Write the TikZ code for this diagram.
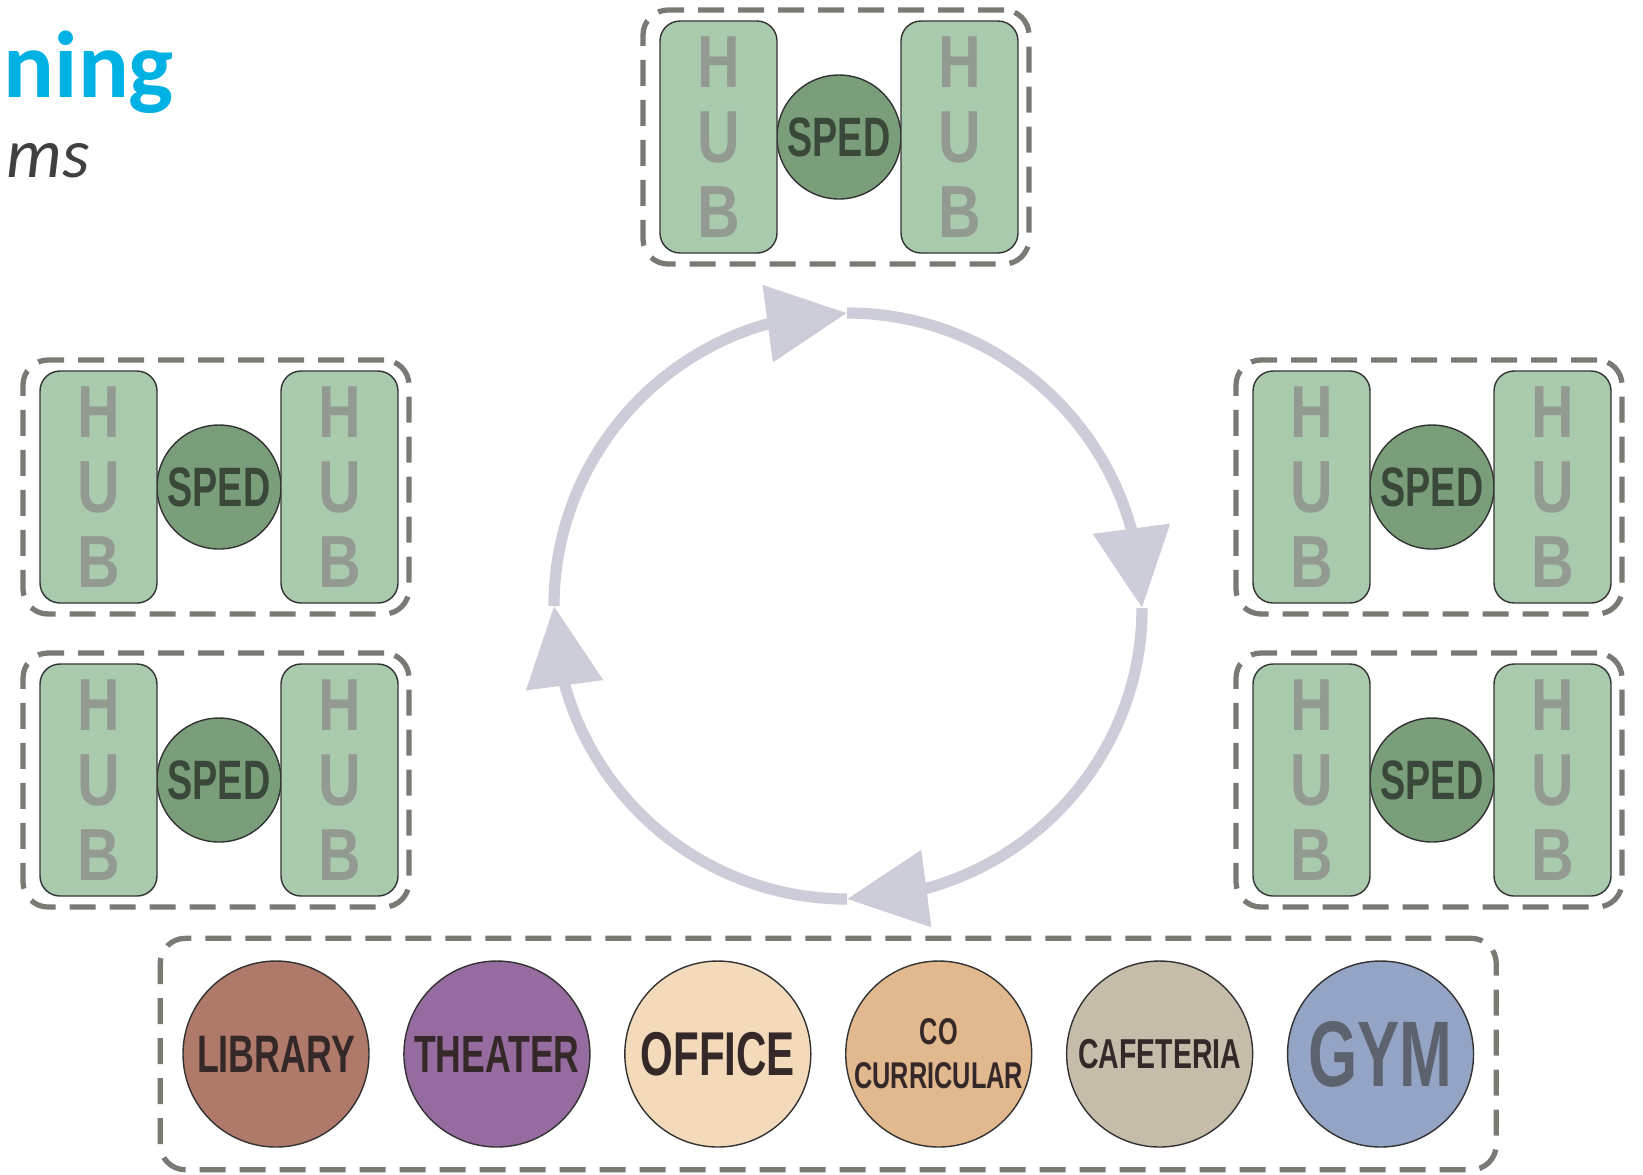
\documentclass[tikz,border=0pt]{standalone}
\usepackage{fontspec}
\setmainfont{Liberation Sans}
\newfontfamily\condfont[FakeStretch=0.68]{Liberation Sans}
\newfontfamily\hubfont[FakeStretch=0.8]{Liberation Sans}
\newfontfamily\titlefont{Carlito}
\usepackage{tikz}
\usetikzlibrary{shapes,arrows.meta,bending}
\usetikzlibrary{positioning,fit}

\definecolor{hubgreen}{RGB}{170,202,174}
\definecolor{hubletter}{RGB}{146,154,145}
\definecolor{spedgreen}{RGB}{122,158,122}
\definecolor{spedtext}{RGB}{58,72,58}
\definecolor{dashgray}{RGB}{122,122,116}
\definecolor{cyclegray}{RGB}{205,205,218}
\definecolor{titleblue}{RGB}{0,178,228}
\definecolor{subgray}{RGB}{64,64,64}
\definecolor{roomtext}{RGB}{52,40,40}
\definecolor{gymtext}{RGB}{92,98,110}
\definecolor{libraryfill}{RGB}{176,122,106}
\definecolor{theaterfill}{RGB}{150,108,160}
\definecolor{officefill}{RGB}{242,218,186}
\definecolor{cocurrfill}{RGB}{226,184,142}
\definecolor{cafefill}{RGB}{198,188,170}
\definecolor{gymfill}{RGB}{148,164,196}

\tikzstyle{hub} = [
    rectangle, rounded corners=0.2cm, minimum width=1.17cm, minimum height=2.32cm,
    inner sep=0pt, outer sep=0pt, draw=black!80, fill=hubgreen, text=hubletter,
    align=center, font=\hubfont\bfseries\fontsize{21}{21.3}\selectfont]
\tikzstyle{sped} = [
    circle, minimum size=1.24cm, inner sep=0pt, outer sep=0pt, draw=black!80,
    fill=spedgreen, text=spedtext, font=\condfont\bfseries\fontsize{15.8}{16}\selectfont]
\tikzstyle{hubbox} = [
    rectangle, rounded corners=0.25cm, draw=dashgray, line width=1.5pt,
    dash pattern=on 0.26cm off 0.14cm, inner xsep=0.14cm, inner ysep=0.11cm, xshift=-0.03cm]
\tikzstyle{room} = [
    circle, minimum size=1.86cm, inner sep=0pt, draw=black!80, text=roomtext, align=center]
\tikzstyle{cyclearrow} = [line width=3.2pt, draw=cyclegray, -{Triangle[length=0.8cm, width=0.75cm]}]

\begin{document}
\begin{tikzpicture}
\useasboundingbox (0,0) rectangle (16.43,-11.74);

\node (title) [anchor=base west, inner sep=0pt, text=titleblue,
    font=\titlefont\bfseries\fontsize{27}{27}\selectfont] at (0.03,-0.97) {ning};
\node (subtitle) [anchor=base west, inner sep=0pt, text=subgray,
    font=\titlefont\itshape\fontsize{20}{20}\selectfont] at (0.06,-1.77) {ms};

% hub groups
\node (sped-top) [sped] at (8.39,-1.37) {SPED};
\node (hub-top-l) [hub, left=0cm of sped-top] {H\\U\\B};
\node (hub-top-r) [hub, right=0cm of sped-top] {H\\U\\B};
\node (box-top) [hubbox, fit=(hub-top-l)(hub-top-r)] {};

\node (sped-lu) [sped] at (2.19,-4.87) {SPED};
\node (hub-lu-l) [hub, left=0cm of sped-lu] {H\\U\\B};
\node (hub-lu-r) [hub, right=0cm of sped-lu] {H\\U\\B};
\node (box-lu) [hubbox, fit=(hub-lu-l)(hub-lu-r)] {};

\node (sped-ll) [sped] at (2.19,-7.80) {SPED};
\node (hub-ll-l) [hub, left=0cm of sped-ll] {H\\U\\B};
\node (hub-ll-r) [hub, right=0cm of sped-ll] {H\\U\\B};
\node (box-ll) [hubbox, fit=(hub-ll-l)(hub-ll-r)] {};

\node (sped-ru) [sped] at (14.32,-4.87) {SPED};
\node (hub-ru-l) [hub, left=0cm of sped-ru] {H\\U\\B};
\node (hub-ru-r) [hub, right=0cm of sped-ru] {H\\U\\B};
\node (box-ru) [hubbox, fit=(hub-ru-l)(hub-ru-r)] {};

\node (sped-rl) [sped] at (14.32,-7.80) {SPED};
\node (hub-rl-l) [hub, left=0cm of sped-rl] {H\\U\\B};
\node (hub-rl-r) [hub, right=0cm of sped-rl] {H\\U\\B};
\node (box-rl) [hubbox, fit=(hub-rl-l)(hub-rl-r)] {};

% shared rooms
\node (library) [room, fill=libraryfill, font=\condfont\bfseries\fontsize{15}{16}\selectfont] at (2.76,-10.54) {LIBRARY};
\node (theater) [room, fill=theaterfill, font=\condfont\bfseries\fontsize{14.9}{16}\selectfont, right=0.335cm of library] {THEATER};
\node (office) [room, fill=officefill, font=\condfont\bfseries\fontsize{17.6}{18}\selectfont, right=0.335cm of theater] {OFFICE};
\node (cocurricular) [room, fill=cocurrfill, font=\condfont\bfseries\fontsize{10.6}{12.5}\selectfont, right=0.335cm of office] {CO\\CURRICULAR};
\node (cafeteria) [room, fill=cafefill, font=\condfont\bfseries\fontsize{11.9}{13}\selectfont, right=0.335cm of cocurricular] {CAFETERIA};
\node (gym) [room, fill=gymfill, text=gymtext, font=\condfont\bfseries\fontsize{26.5}{28}\selectfont, right=0.335cm of cafeteria] {GYM};
\node (box-rooms) [hubbox, inner sep=0.22cm, xshift=0.03cm, fit=(library)(gym)] {};

% rotation cycle
\coordinate (cyc-n) at (8.47,-3.13);
\coordinate (cyc-e) at (11.42,-6.08);
\coordinate (cyc-s) at (8.47,-8.99);
\coordinate (cyc-w) at (5.54,-6.06);
\draw [cyclearrow] (cyc-w) arc (180:90:2.93);
\draw [cyclearrow] (cyc-n) arc (90:0:2.95);
\draw [cyclearrow] (cyc-e) arc (0:-90:2.95 and 2.91);
\draw [cyclearrow] (cyc-s) arc (270:180:2.93);
\end{tikzpicture}
\end{document}
